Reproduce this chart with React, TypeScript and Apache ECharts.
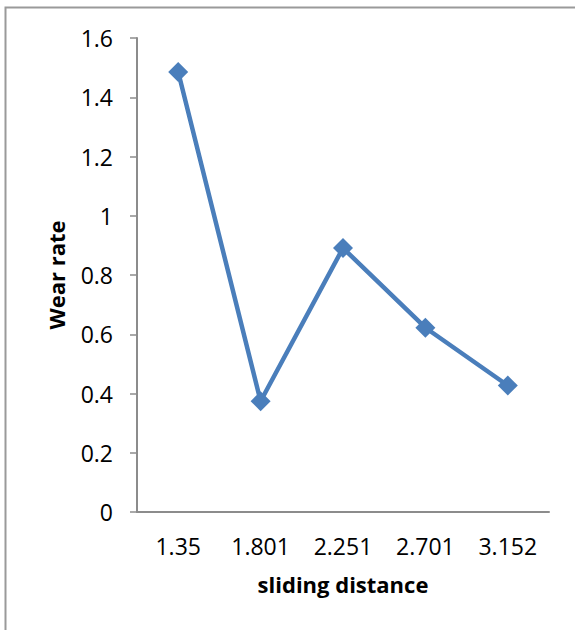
import React, { useEffect, useRef } from "react";
import * as echarts from "echarts";

const categories = ["1.35", "1.801", "2.251", "2.701", "3.152"];
const wearRate = [1.485, 0.374, 0.891, 0.622, 0.427];
const xTitle = "sliding distance";
const yTitle = "Wear rate";

export default function App() {
  const ref = useRef<HTMLDivElement>(null);
  useEffect(() => {
    if (!ref.current) return;
    const chart = echarts.init(ref.current, undefined, { renderer: "svg" });
    const font = "'Open Sans', sans-serif";
    chart.setOption({
      animation: false,
      backgroundColor: "#ffffff",
      graphic: [
        {
          type: "rect",
          shape: { x: 5.5, y: 7.5, width: 700, height: 700 },
          style: { fill: "none", stroke: "#9a9a9a", lineWidth: 2 },
          silent: true,
        },
      ],
      grid: { left: 137, top: 38, width: 412, height: 474 },
      xAxis: {
        type: "category",
        data: categories,
        boundaryGap: true,
        name: xTitle,
        nameLocation: "middle",
        nameGap: 61,
        nameTextStyle: { fontFamily: font, fontSize: 22, fontWeight: "bold", color: "#000" },
        axisLine: { lineStyle: { color: "#8c8c8c", width: 2 } },
        axisTick: { show: false },
        axisLabel: { fontFamily: font, fontSize: 23, color: "#000", margin: 22 },
        splitLine: { show: false },
      },
      yAxis: {
        type: "value",
        min: 0,
        max: 1.6,
        interval: 0.2,
        name: yTitle,
        nameLocation: "middle",
        nameGap: 70,
        nameRotate: 90,
        nameTextStyle: { fontFamily: font, fontSize: 22, fontWeight: "bold", color: "#000" },
        axisLine: { show: true, lineStyle: { color: "#8c8c8c", width: 2 } },
        axisTick: { show: true, length: 7, lineStyle: { color: "#8c8c8c", width: 1.5 } },
        axisLabel: {
          fontFamily: font,
          fontSize: 23,
          color: "#000",
          margin: 24,
          formatter: (v: number) => String(Math.round(v * 10) / 10),
        },
        splitLine: { show: false },
      },
      series: [
        {
          type: "line",
          data: wearRate,
          symbol: "diamond",
          symbolSize: 20,
          lineStyle: { color: "#4a7ebb", width: 4.5 },
          itemStyle: { color: "#4a7ebb" },
        },
      ],
    });
    return () => chart.dispose();
  }, []);
  return (
    <div
      ref={ref}
      style={{ position: "absolute", left: 0, top: 0, width: 575, height: 630 }}
    />
  );
}
